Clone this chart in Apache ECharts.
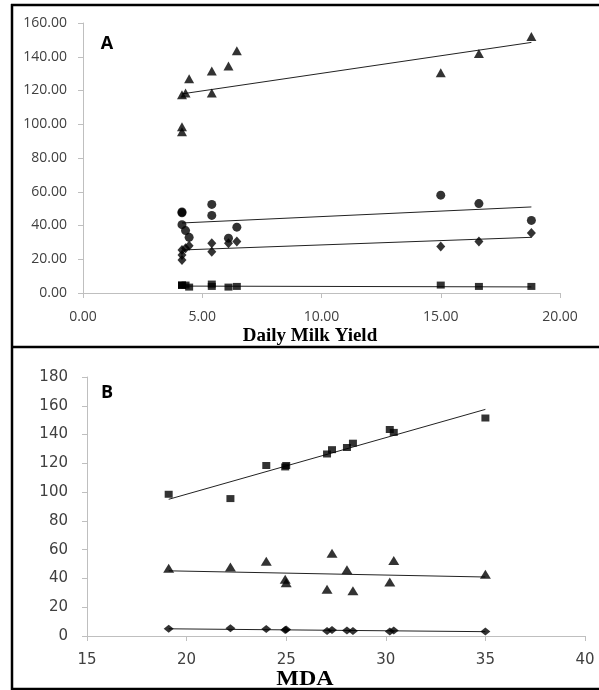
<!DOCTYPE html>
<html>
<head>
<meta charset="utf-8">
<script src="https://cdn.jsdelivr.net/npm/echarts@6/dist/echarts.min.js"></script>
<style>
  html, body { margin: 0; padding: 0; background: #fff; }
  #chart { width: 599px; height: 690px; }
</style>
</head>
<body>
<div id="chart"></div>
<script>
// Panel A: daily milk yield (x) vs four measures
const milkYield = [4.15, 4.15, 4.15, 4.3, 4.45, 5.4, 5.4, 6.1, 6.45, 15.0, 16.6, 18.8];
const triA = [95.5, 98.5, 117.5, 118.5, 127, 131.5, 118.5, 134.5, 143.5, 130.5, 142, 152];
const circA = [48, 47.5, 40.5, 37, 33, 52.5, 46, 32.5, 39, 58, 53, 43];
const diaA = [19.5, 22.5, 25.5, 26.5, 28, 29.5, 24.5, 29.5, 30.5, 27.5, 30.5, 35.5];
const sqA = [4.7, 4.5, 4.7, 4.7, 3.5, 5.3, 3.9, 3.5, 3.9, 4.7, 3.9, 3.9];

// trend line end points
const trendTriA = [[4.15, 118], [18.8, 148.5]];
const trendCircA = [[4.15, 41.5], [18.8, 51]];
const trendDiaA = [[4.15, 25.5], [18.8, 33]];
const trendSqA = [[4.15, 4.1], [18.8, 3.6]];

// Panel B: MDA (x) vs three measures
const mda = [19.1, 22.2, 24.0, 24.95, 25.0, 27.05, 27.3, 28.05, 28.35, 30.2, 30.4, 35.0];
const sqB = [98.5, 95.5, 118.5, 117.5, 118.5, 126.5, 129.5, 131, 134, 143.5, 141.5, 151.5];
const triB = [47, 48, 52, 39.5, 37, 32.5, 57.5, 46, 31.5, 37.5, 52.5, 43];
const diaB = [5, 5.3, 4.9, 4.2, 4.5, 3.5, 4.2, 3.9, 3.5, 3.2, 3.9, 3.2];

const trendSqB = [[19.1, 95], [35, 157.5]];
const trendTriB = [[19.1, 45.3], [35, 41]];
const trendDiaB = [[19.1, 5], [35, 3]];

const pairs = (xs, ys) => xs.map((x, i) => [x, ys[i]]);

const chart = echarts.init(document.getElementById('chart'));

const axisGray = '#bfbfbf';
const labelColor = '#404040';

function valueAxis(idx, min, max, interval, fmt, font, size, margin) {
  return {
    type: 'value',
    gridIndex: idx,
    min: min,
    max: max,
    interval: interval,
    splitLine: { show: false },
    axisLine: { show: true, lineStyle: { color: axisGray, width: 1 } },
    axisTick: { show: true, length: 5, lineStyle: { color: axisGray } },
    axisLabel: {
      formatter: fmt,
      color: labelColor,
      fontFamily: font,
      fontSize: size,
      margin: margin
    }
  };
}

function dots(name, x, y, symbol, size, axis) {
  return {
    name: name,
    type: 'scatter',
    xAxisIndex: axis,
    yAxisIndex: axis,
    data: pairs(x, y),
    symbol: symbol,
    symbolSize: size,
    itemStyle: { color: '#000' },
    z: 3
  };
}

function trend(name, pts, axis) {
  return {
    name: name,
    type: 'line',
    xAxisIndex: axis,
    yAxisIndex: axis,
    data: pts,
    showSymbol: false,
    lineStyle: { color: '#222', width: 1 },
    z: 2
  };
}

const fmt2 = v => v.toFixed(2);
const fmt0 = v => String(v);

chart.setOption({
  animation: false,
  backgroundColor: '#fff',
  grid: [
    { left: 83, right: 39, top: 23, bottom: 397 },
    { left: 87, right: 14, top: 377, bottom: 54 }
  ],
  xAxis: [
    valueAxis(0, 0, 20, 5, fmt2, 'Open Sans', 14, 17),
    valueAxis(1, 15, 40, 5, fmt0, 'DejaVu Sans', 15, 17)
  ],
  yAxis: [
    valueAxis(0, 0, 160, 20, fmt2, 'Open Sans', 14, 16),
    valueAxis(1, 0, 180, 20, fmt0, 'DejaVu Sans', 15, 19)
  ],
  series: [
    dots('triA', milkYield, triA, 'triangle', [10, 9], 0),
    dots('circA', milkYield, circA, 'circle', 9, 0),
    dots('diaA', milkYield, diaA, 'diamond', [9, 10], 0),
    dots('sqA', milkYield, sqA, 'rect', [8, 7], 0),
    trend('tTriA', trendTriA, 0),
    trend('tCircA', trendCircA, 0),
    trend('tDiaA', trendDiaA, 0),
    trend('tSqA', trendSqA, 0),
    dots('sqB', mda, sqB, 'rect', [8, 7], 1),
    dots('triB', mda, triB, 'triangle', [11, 9], 1),
    dots('diaB', mda, diaB, 'diamond', [10, 8], 1),
    trend('tSqB', trendSqB, 1),
    trend('tTriB', trendTriB, 1),
    trend('tDiaB', trendDiaB, 1)
  ],
  graphic: [
    // panel frames
    { type: 'line', shape: { x1: 11, y1: 5, x2: 599, y2: 5 }, style: { stroke: '#000', lineWidth: 2.5 } },
    { type: 'line', shape: { x1: 11, y1: 347, x2: 599, y2: 347 }, style: { stroke: '#000', lineWidth: 2.5 } },
    { type: 'line', shape: { x1: 11, y1: 689, x2: 599, y2: 689 }, style: { stroke: '#000', lineWidth: 2.5 } },
    { type: 'line', shape: { x1: 12, y1: 4, x2: 12, y2: 690 }, style: { stroke: '#000', lineWidth: 2.5 } },
    // panel letters
    { type: 'text', x: 107, y: 44, style: { text: 'A', font: 'bold 18px "Open Sans"', fill: '#000', textAlign: 'center', textVerticalAlign: 'middle' } },
    { type: 'text', x: 107, y: 393, style: { text: 'B', font: 'bold 18px "Open Sans"', fill: '#000', textAlign: 'center', textVerticalAlign: 'middle' } },
    // axis titles
    { type: 'text', x: 310, y: 336, style: { text: 'Daily Milk Yield', font: 'bold 19px "Liberation Serif"', fill: '#000', textAlign: 'center', textVerticalAlign: 'middle' } },
    { type: 'text', x: 305, y: 680, scaleX: 1.2, originX: 0, originY: 0, style: { text: 'MDA', font: 'bold 20px "Liberation Serif"', fill: '#000', textAlign: 'center', textVerticalAlign: 'middle' } }
  ]
});
</script>
</body>
</html>
